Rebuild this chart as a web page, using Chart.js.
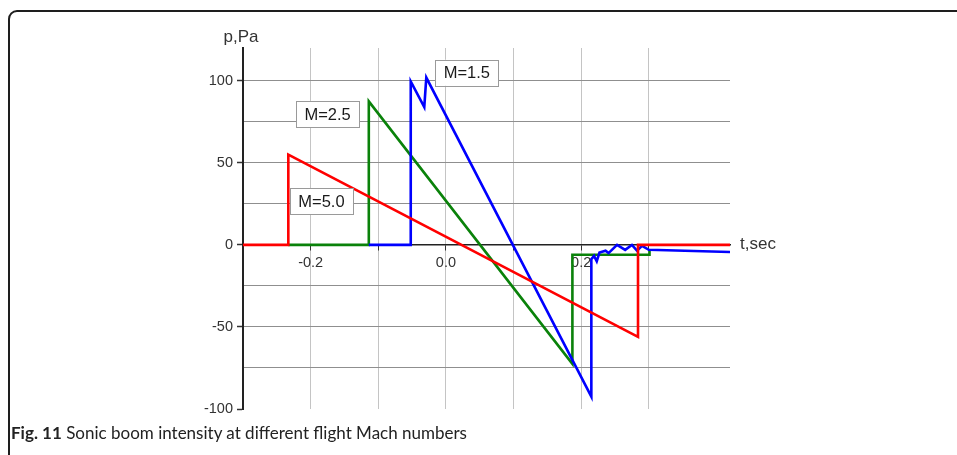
<!DOCTYPE html>
<html>
<head>
<meta charset="utf-8">
<script src="https://cdn.jsdelivr.net/npm/chart.js@4.4.1/dist/chart.umd.min.js"></script>
<style>
    html, body { margin: 0; padding: 0; background: #fff; overflow: hidden; }
    #page { position: relative; width: 957px; height: 455px; overflow: hidden; }
    #frame {
        position: absolute; left: 8px; top: 10px; width: 1000px; height: 520px;
        border: 2px solid #1e1e1e; border-radius: 9px;
    }
    #boomChart { position: absolute; left: 0; top: 0; }
    #caption {
        position: absolute; left: 11px; top: 422px;
        font-family: Lato, "Open Sans", sans-serif; font-size: 17px; color: #222;
        white-space: nowrap;
    }
    #caption b { font-weight: bold; }
</style>
</head>
<body>
<div id="page">
    <div id="frame"></div>
    <canvas id="boomChart" width="957" height="455"></canvas>
    <div id="caption"><b>Fig. 11</b> Sonic boom intensity at different flight Mach numbers</div>
</div>
<script>
// Sonic boom pressure signatures (t in sec, p in Pa)
const redT = [-0.3, -0.233, -0.233, 0.284, 0.284, 0.42];       // M=5.0
const redP = [0, 0, 55, -56, 0, 0];

const greenT = [-0.233, -0.114, -0.114, 0.187, 0.187, 0.301, 0.301];   // M=2.5
const greenP = [0, 0, 87.5, -72.5, -6, -6, -3];

const blueT = [-0.114, -0.052, -0.052, -0.032, -0.029, 0.215, 0.215, 0.219, 0.223,
               0.227, 0.236, 0.2405, 0.253, 0.265, 0.275, 0.2825, 0.29, 0.30, 0.42]; // M=1.5
const blueP = [0, 0, 99.6, 84, 102, -92.5, -8.7, -6.7, -10,
               -4.7, -3.5, -5, 0, -3, 0, -3.5, -0.6, -3, -4.3];

// Boxed Mach labels (centre of each box, in data units)
const labelText = ['M=1.5', 'M=2.5', 'M=5.0'];
const labelT = [0.031, -0.175, -0.184];
const labelP = [104.9, 79.6, 26.5];

const xTickLabels = { '-0.2': '-0.2', '0.0': '0.0', '0.2': '0.2', '0.4': '0.4' };
const yTickLabels = [100, 50, 0, -50, -100];

function toPoints(ts, ps) {
    return ts.map((t, i) => ({ x: t, y: ps[i] }));
}

// Draws the axis names and the boxed Mach labels
const annotationsPlugin = {
    id: 'annotations',
    afterDatasetsDraw(chart) {
        const c = chart.ctx;
        const xs = chart.scales.x;
        const ys = chart.scales.y;
        c.save();
        c.font = '16.5px "Liberation Sans", Arial, sans-serif';
        c.textAlign = 'center';
        c.textBaseline = 'middle';
        labelText.forEach((txt, i) => {
            const cx = xs.getPixelForValue(labelT[i]);
            const cy = ys.getPixelForValue(labelP[i]);
            const w = 63, h = 26;
            c.fillStyle = '#fff';
            c.fillRect(cx - w / 2, cy - h / 2, w, h);
            c.strokeStyle = '#9a9a9a';
            c.lineWidth = 1;
            c.strokeRect(Math.round(cx - w / 2) + 0.5, Math.round(cy - h / 2) + 0.5, w, h);
            c.fillStyle = '#1a1a1a';
            c.fillText(txt, cx, cy + 1);
        });

        c.fillStyle = '#333';
        c.font = '17px "Liberation Sans", Arial, sans-serif';
        c.textAlign = 'center';
        c.textBaseline = 'alphabetic';
        c.fillText('p,Pa', chart.chartArea.left - 2, chart.chartArea.top - 6);
        c.textAlign = 'left';
        c.textBaseline = 'middle';
        c.fillText('t,sec', chart.chartArea.right + 10, ys.getPixelForValue(0) - 1);
        c.restore();
    }
};

const isMultiple = (v, step) => Math.abs(v / step - Math.round(v / step)) < 1e-6;

new Chart(document.getElementById('boomChart'), {
    type: 'line',
    data: {
        datasets: [
            { label: 'M=5.0', data: toPoints(redT, redP), borderColor: '#ff0000' },
            { label: 'M=1.5', data: toPoints(blueT, blueP), borderColor: '#0000ff' },
            { label: 'M=2.5', data: toPoints(greenT, greenP), borderColor: '#0a820a' }
        ].map(ds => Object.assign(ds, {
            borderWidth: 2.6,
            pointRadius: 0,
            tension: 0,
            fill: false,
            borderJoinStyle: 'miter'
        }))
    },
    options: {
        responsive: false,
        animation: false,
        layout: { padding: { top: 48, right: 227, bottom: 46, left: 0 } },
        plugins: {
            legend: { display: false },
            tooltip: { enabled: false }
        },
        scales: {
            x: {
                type: 'linear',
                min: -0.3,
                max: 0.42,
                position: { y: 0 },
                afterBuildTicks: scale => {
                    scale.ticks = scale.ticks.filter(t => t.value > -0.25 && t.value < 0.41);
                },
                ticks: {
                    stepSize: 0.1,
                    autoSkip: false,
                    maxRotation: 0,
                    padding: 4,
                    color: '#333',
                    font: { family: '"Liberation Sans", Arial, sans-serif', size: 14.5 },
                    callback: v => xTickLabels[(Math.round(v * 10) / 10).toFixed(1)] || ''
                },
                grid: {
                    color: '#c4c4c4',
                    lineWidth: 1,
                    tickLength: 5,
                    tickColor: '#333'
                },
                border: { display: true, color: '#222', width: 1.5 }
            },
            y: {
                type: 'linear',
                min: -100,
                max: 120,
                afterFit: scale => { scale.width = 243; },
                afterBuildTicks: scale => {
                    scale.ticks = scale.ticks.filter(t => t.value <= 100);
                },
                ticks: {
                    stepSize: 25,
                    autoSkip: false,
                    padding: 4,
                    color: '#333',
                    font: { family: '"Liberation Sans", Arial, sans-serif', size: 14.5 },
                    callback: v => yTickLabels.includes(v) ? String(v) : ''
                },
                grid: {
                    color: ctx => (ctx.tick && ctx.tick.value === -100) ? 'rgba(0,0,0,0)' : '#8f8f8f',
                    lineWidth: 1,
                    tickLength: 6,
                    tickColor: ctx => (ctx.tick && isMultiple(ctx.tick.value, 50)) ? '#333' : 'rgba(0,0,0,0)',
                    tickWidth: 1.5
                },
                border: { display: true, color: '#222', width: 2 }
            }
        }
    },
    plugins: [annotationsPlugin]
});
</script>
</body>
</html>
